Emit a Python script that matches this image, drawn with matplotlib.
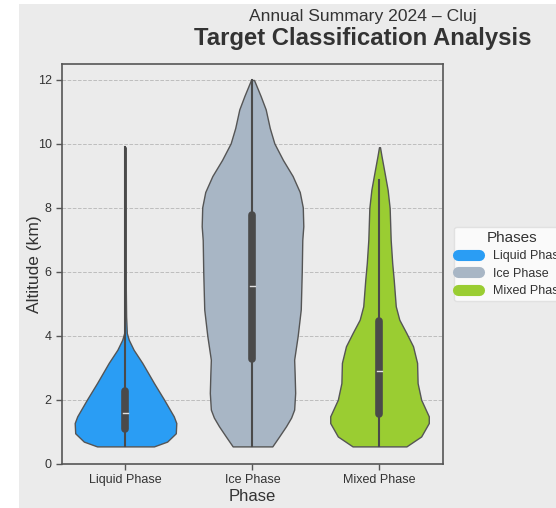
import matplotlib.pyplot as plt
from matplotlib.patches import Rectangle
from matplotlib.lines import Line2D

plt.rcParams['font.family'] = ['Liberation Sans', 'DejaVu Sans']

phases = ['Liquid Phase', 'Ice Phase', 'Mixed Phase']
colors = ['#2a9df4', '#a8b6c5', '#9acd32']

# violin outlines: altitude (km) and relative half width
liquid_alt = [0.55, 0.7, 0.96, 1.28, 1.49, 2.01, 2.53, 3.16, 3.57, 3.88, 4.09, 4.61, 5.45, 6.5, 8.0, 9.9]
liquid_w = [0.56, 0.82, 0.99, 1.0, 0.95, 0.76, 0.56, 0.33, 0.16, 0.065, 0.026, 0.012, 0.006, 0.003, 0.002, 0.001]

ice_alt = [0.55, 0.85, 1.18, 1.45, 1.70, 2.22, 2.8, 3.26, 4.01, 4.83, 6.03, 7.0, 7.43, 8.02, 8.5, 9.0, 9.5, 10.02, 10.5, 11.08, 11.5, 12.0]
ice_w = [0.39, 0.52, 0.66, 0.76, 0.82, 0.84, 0.83, 0.82, 0.89, 0.95, 0.97, 0.98, 1.0, 0.99, 0.93, 0.79, 0.6, 0.43, 0.34, 0.26, 0.16, 0.03]

mixed_alt = [0.55, 0.86, 1.28, 1.49, 2.01, 2.53, 3.16, 3.68, 4.09, 4.51, 4.93, 5.76, 6.28, 7.01, 8.0, 8.57, 9.1, 9.62, 9.9]
mixed_w = [0.53, 0.82, 0.97, 0.97, 0.82, 0.75, 0.74, 0.66, 0.53, 0.39, 0.32, 0.28, 0.25, 0.22, 0.2, 0.16, 0.1, 0.04, 0.01]

# box stats: q1, median, q3, whisker low, whisker high
q1 = [1.02, 3.21, 1.49]
med = [1.59, 5.56, 2.91]
q3 = [2.35, 7.83, 4.53]
wlo = [0.55, 0.55, 0.55]
whi = [9.9, 12.0, 8.89]

profiles = [(liquid_alt, liquid_w), (ice_alt, ice_w), (mixed_alt, mixed_w)]

bg = '#ebebeb'
fig = plt.figure(figsize=(5.56, 5.08), dpi=100, facecolor='white')
fig.patches.append(Rectangle((19 / 556, 0), 1, 1 - 4 / 508, transform=fig.transFigure,
                             facecolor=bg, edgecolor='none', zorder=-10))
ax = fig.add_axes([62 / 556, 1 - 464 / 508, 381 / 556, 400 / 508])
ax.set_facecolor(bg)

half = 0.4
for i, (alt, w) in enumerate(profiles):
    hw = [v * half for v in w]
    left = [i - v for v in hw]
    right = [i + v for v in hw]
    ax.fill_betweenx(alt, left, right, facecolor=colors[i], edgecolor='#555555',
                     linewidth=1.0, zorder=2)
    ax.plot([i, i], [wlo[i], whi[i]], color='#4a4a4a', lw=1.5, zorder=3)
    ax.plot([i, i], [q1[i] + 0.06, q3[i] - 0.06], color='#4a4a4a', lw=5.5,
            solid_capstyle='round', zorder=4)
    ax.plot([i - 0.018, i + 0.018], [med[i], med[i]], color='#e0e0e0', lw=1.0, zorder=5)

ax.set_xlim(-0.5, 2.5)
ax.set_ylim(0, 12.5)
ax.set_yticks([0, 2, 4, 6, 8, 10, 12])
ax.set_xticks([0, 1, 2])
ax.set_xticklabels(phases)
ax.yaxis.grid(True, linestyle='--', color='#bdbdbd', linewidth=0.7, zorder=0)
ax.set_axisbelow(True)
for s in ax.spines.values():
    s.set_color('#555555')
    s.set_linewidth(1.2)
ax.tick_params(colors='#555555', labelcolor='#333333', labelsize=9, length=4, width=1,
               direction='out')
ax.set_xlabel('Phase', fontsize=12, color='#333333', labelpad=2)
ax.set_ylabel('Altitude (km)', fontsize=12.5, color='#333333', labelpad=-3)

fig.text(363 / 556, 1 - 17 / 508, 'Annual Summary 2024 \u2013 Cluj', ha='center', va='center',
         fontsize=12.6, color='#333333')
fig.text(363 / 556, 1 - 38 / 508, 'Target Classification Analysis', ha='center', va='center',
         fontsize=17.2, fontweight='bold', color='#333333')

handles = [Line2D([0], [0], color=c, lw=8, solid_capstyle='round') for c in colors]
leg = ax.legend(handles, phases, title='Phases', loc='center left', bbox_to_anchor=(1.02, 0.5),
                fontsize=9, title_fontsize=11, frameon=True, handlelength=1.7,
                borderpad=0.3, labelspacing=0.45, handletextpad=1.1, borderaxespad=0.3)
leg.get_frame().set_facecolor('white')
leg.get_frame().set_edgecolor('#dddddd')
for t in leg.get_texts():
    t.set_color('#333333')
leg.get_title().set_color('#333333')

fig.savefig('out.png', dpi=100, facecolor='white')
